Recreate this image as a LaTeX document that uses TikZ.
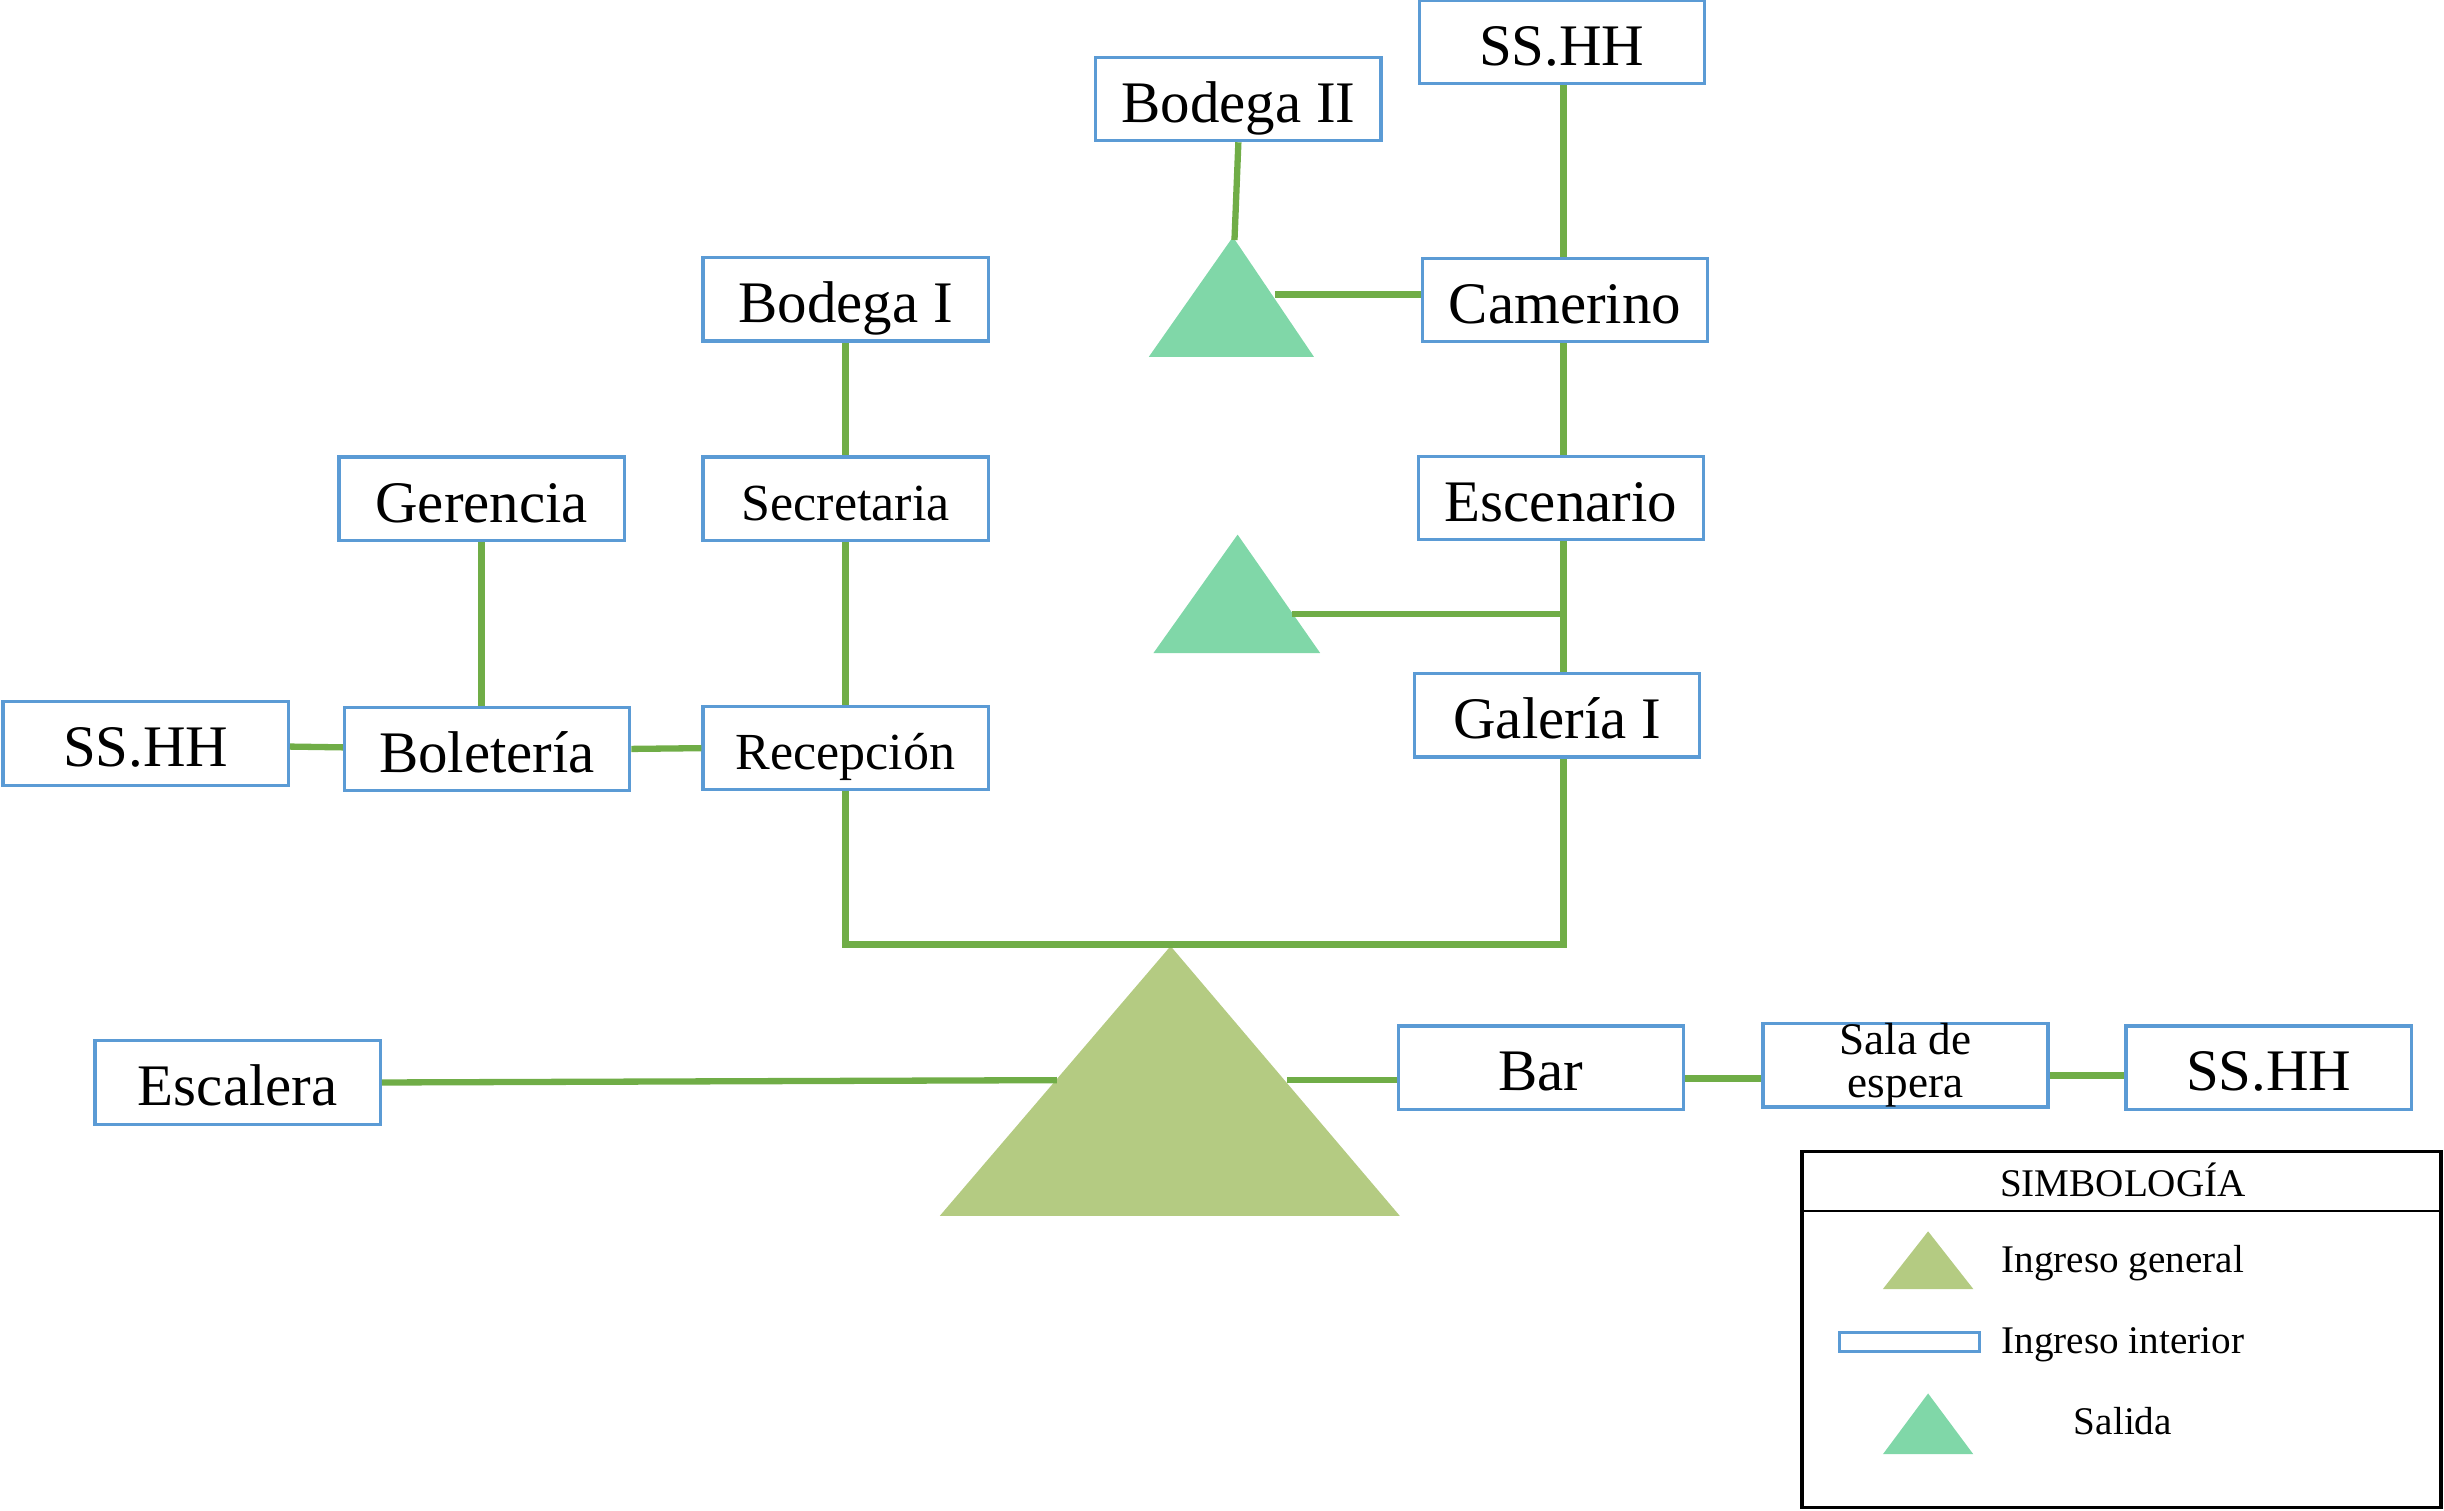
\documentclass[tikz,border=0pt]{standalone}
\usepackage{fontspec}
\setmainfont{Liberation Serif}
\usepackage{xcolor}
\usepackage{tikz}

\definecolor{verdelinea}{HTML}{70AD47}
\definecolor{azulcaja}{HTML}{5B9BD5}
\definecolor{verdeingreso}{HTML}{B4CB82}
\definecolor{verdesalida}{HTML}{80D7A8}

\tikzset{
  ambiente/.style={draw=azulcaja, line width=1.2pt, fill=white, inner sep=0pt,
    minimum width=3.66cm, minimum height=1.07cm, text height=17pt, text depth=0pt,
    font=\fontsize{21.5}{24}\selectfont},
  chico/.style={font=\fontsize{19}{22}\selectfont, text height=15.6pt},
  via/.style={draw=verdelinea, line width=2.3pt},
  leyenda/.style={font=\fontsize{14.3}{17}\selectfont},
}

\begin{document}
\begin{tikzpicture}
\useasboundingbox (0,0) rectangle (31.36,19.38);

    % triangles (ingreso general y salidas)
    \fill[verdeingreso] (12.06,3.78) -- (17.96,3.78) -- (15.02,7.24) -- cycle;
    \fill[verdesalida] (14.74,14.80) -- (16.86,14.80) -- (15.82,16.34) -- cycle;
    \fill[verdesalida] (14.80,11.00) -- (16.94,11.00) -- (15.88,12.52) -- cycle;

    \coordinate (sal1top) at (15.84,16.30);
    \coordinate (sal1der) at (16.36,15.60);
    \coordinate (sal2der) at (16.58,11.50);
    \coordinate (cruce) at (15.02,7.26);
    \coordinate (ingizq) at (13.56,5.52);
    \coordinate (ingder) at (16.52,5.52);
    \coordinate (eje) at (20.06,0);

    % rooms
    \node[ambiente] (sshh1) at (20.04,18.84) {SS.HH};
    \node[ambiente] (bod2) at (15.89,18.11) {Bodega II};
    \node[ambiente] (cam) at (20.08,15.53) {Camerino};
    \node[ambiente] (bod1) at (10.85,15.54) {Bodega I};
    \node[ambiente] (ger) at (6.18,12.98) {Gerencia};
    \node[ambiente,chico] (sec) at (10.85,12.98) {Secretaria};
    \node[ambiente] (esc) at (20.03,12.99) {Escenario};
    \node[ambiente] (gal) at (19.98,10.20) {Galería I};
    \node[ambiente] (sshh2) at (1.87,9.84) {SS.HH};
    \node[ambiente] (bol) at (6.25,9.77) {Boletería};
    \node[ambiente,chico] (rec) at (10.85,9.78) {Recepción};
    \node[ambiente] (escal) at (3.05,5.49) {Escalera};
    \node[ambiente] (bar) at (19.77,5.68) {Bar};
    \node[ambiente,align=center,text height={},text depth={},
      font=\fontsize{16.5}{15.5}\selectfont] (sala) at (24.45,5.71)
      {\raisebox{-0.2cm}{Sala de}\\\raisebox{-0.2cm}{espera}};
    \node[ambiente] (sshh3) at (29.11,5.68) {SS.HH};

    % draw the lines
    \draw[via] (bod2.south) -- (sal1top);
    \draw[via] (sal1der) -- (sal1der -| cam.west);
    \draw[via] (eje |- sshh1.south) -- (eje |- cam.north);
    \draw[via] (eje |- cam.south) -- (eje |- esc.north);
    \draw[via] (eje |- esc.south) -- (eje |- gal.north);
    \draw[via] (sal2der) -- (sal2der -| eje);
    \draw[via] (rec.south) |- (cruce) -| (eje |- gal.south);
    \draw[via] (bod1) -- (sec);
    \draw[via] (sec) -- (rec);
    \draw[via] (ger) -- (ger |- bol.north);
    \draw[via] (sshh2.east |- 0,9.80) -- (bol.west |- 0,9.79);
    \draw[via] (bol.east) -- (rec.west);
    \draw[via] (escal.east) -- (ingizq);
    \draw[via] (ingder) -- (ingder -| bar.west);
    \draw[via] (bar.east |- 0,5.54) -- (sala.west |- 0,5.54);
    \draw[via] (sala.east |- 0,5.58) -- (sshh3.west |- 0,5.58);

    % simbologia
    \draw[line width=1.2pt] (23.12,0.04) rectangle (31.32,4.60);
    \draw[line width=0.6pt] (23.12,3.84) -- (31.32,3.84);
    \node[leyenda] (titulo) at (27.24,4.24) {SIMBOLOGÍA};
    \fill[verdeingreso] (24.16,2.84) -- (25.32,2.84) -- (24.74,3.58) -- cycle;
    \node[leyenda] (ley1) at (27.24,3.17) {Ingreso general};
    \draw[azulcaja, line width=1.2pt, fill=white] (23.60,2.04) rectangle (25.40,2.28);
    \node[leyenda] (ley2) at (27.24,2.13) {Ingreso interior};
    \fill[verdesalida] (24.16,0.72) -- (25.32,0.72) -- (24.74,1.50) -- cycle;
    \node[leyenda] (ley3) at (27.24,1.14) {Salida};

\end{tikzpicture}
\end{document}
